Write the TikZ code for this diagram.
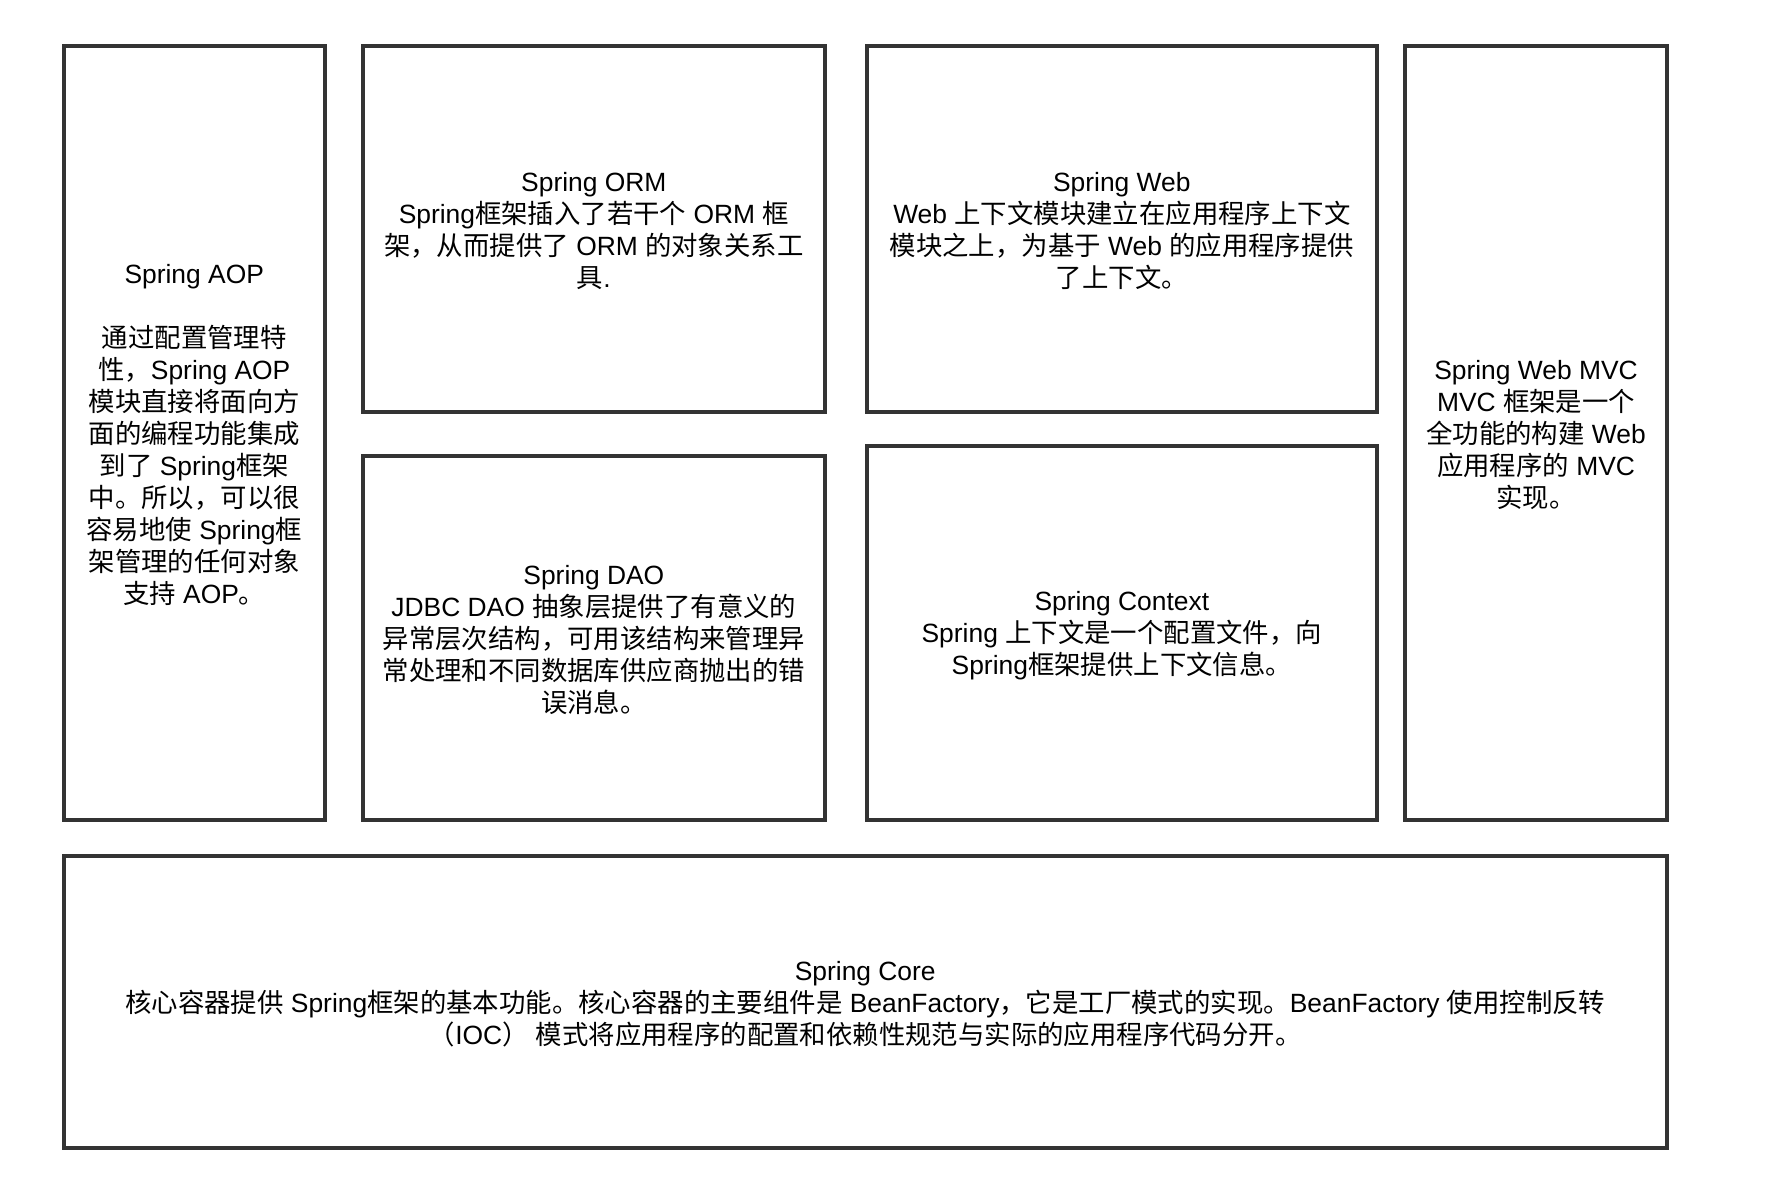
\documentclass[tikz,border=0pt]{standalone}
\usepackage{fontspec}
\setmainfont{Noto Sans CJK SC}
\newfontfamily\latfont{Liberation Sans}
\newcommand{\lt}[1]{{\latfont #1}}
\begin{document}
\begin{tikzpicture}[x=0.5pt,y=-0.5pt,
  box/.style={draw=linec, line width=2pt, rectangle, inner sep=0pt},
  txt/.style={inner sep=0pt, align=center, yshift=-1.2pt,
    font=\fontsize{13.2}{16}\selectfont, text=black}]
\definecolor{linec}{HTML}{333333}
\useasboundingbox (0,0) rectangle (1784,1188);
\node[box, minimum width=130.75pt, minimum height=387pt] (aop) at (194.25,433) {};
\node[txt] (aopt) at (aop.center)
 {\lt{Spring AOP}\\[16pt]通过配置管理特\\性，\lt{Spring AOP}\\模块直接将面向方\\面的编程功能集成\\到了\lt{ Spring}框架\\中。所以，可以很\\容易地使\lt{ Spring}框\\架管理的任何对象\\支持\lt{ AOP}。};
\node[box, minimum width=230.85pt, minimum height=183pt] (orm) at (593.85,229) {};
\node[txt] (ormt) at (orm.center)
 {\lt{Spring ORM}\\\lt{Spring}框架插入了若干个\lt{ ORM }框\\架，从而提供了\lt{ ORM }的对象关系工\\具\lt{.}};
\node[box, minimum width=230.85pt, minimum height=182pt] (dao) at (593.85,638) {};
\node[txt] (daot) at (dao.center)
 {\lt{Spring DAO}\\\lt{JDBC DAO }抽象层提供了有意义的\\异常层次结构，可用该结构来管理异\\常处理和不同数据库供应商抛出的错\\误消息。};
\node[box, minimum width=254.85pt, minimum height=183pt] (web) at (1121.85,229) {};
\node[txt] (webt) at (web.center)
 {\lt{Spring Web}\\\lt{Web }上下文模块建立在应用程序上下文\\模块之上，为基于\lt{ Web }的应用程序提供\\了上下文。};
\node[box, minimum width=254.85pt, minimum height=187pt] (ctx) at (1121.85,633) {};
\node[txt] (ctxt) at (ctx.center)
 {\lt{Spring Context}\\\lt{Spring }上下文是一个配置文件，向\\\lt{Spring}框架提供上下文信息。};
\node[box, minimum width=131pt, minimum height=387pt] (mvc) at (1536,433) {};
\node[txt] (mvct) at (mvc.center)
 {\lt{Spring Web MVC}\\\lt{MVC }框架是一个\\全功能的构建\lt{ Web}\\应用程序的\lt{ MVC}\\实现。};
\node[box, minimum width=801.75pt, minimum height=146pt] (core) at (865.25,1002) {};
\node[txt] (coret) at (core.center)
 {\lt{Spring Core}\\核心容器提供\lt{ Spring}框架的基本功能。核心容器的主要组件是\lt{ BeanFactory}，它是工厂模式的实现。\lt{BeanFactory }使用控制反转\\（\lt{IOC}）\lt{ }模式将应用程序的配置和依赖性规范与实际的应用程序代码分开。};
\end{tikzpicture}
\end{document}
